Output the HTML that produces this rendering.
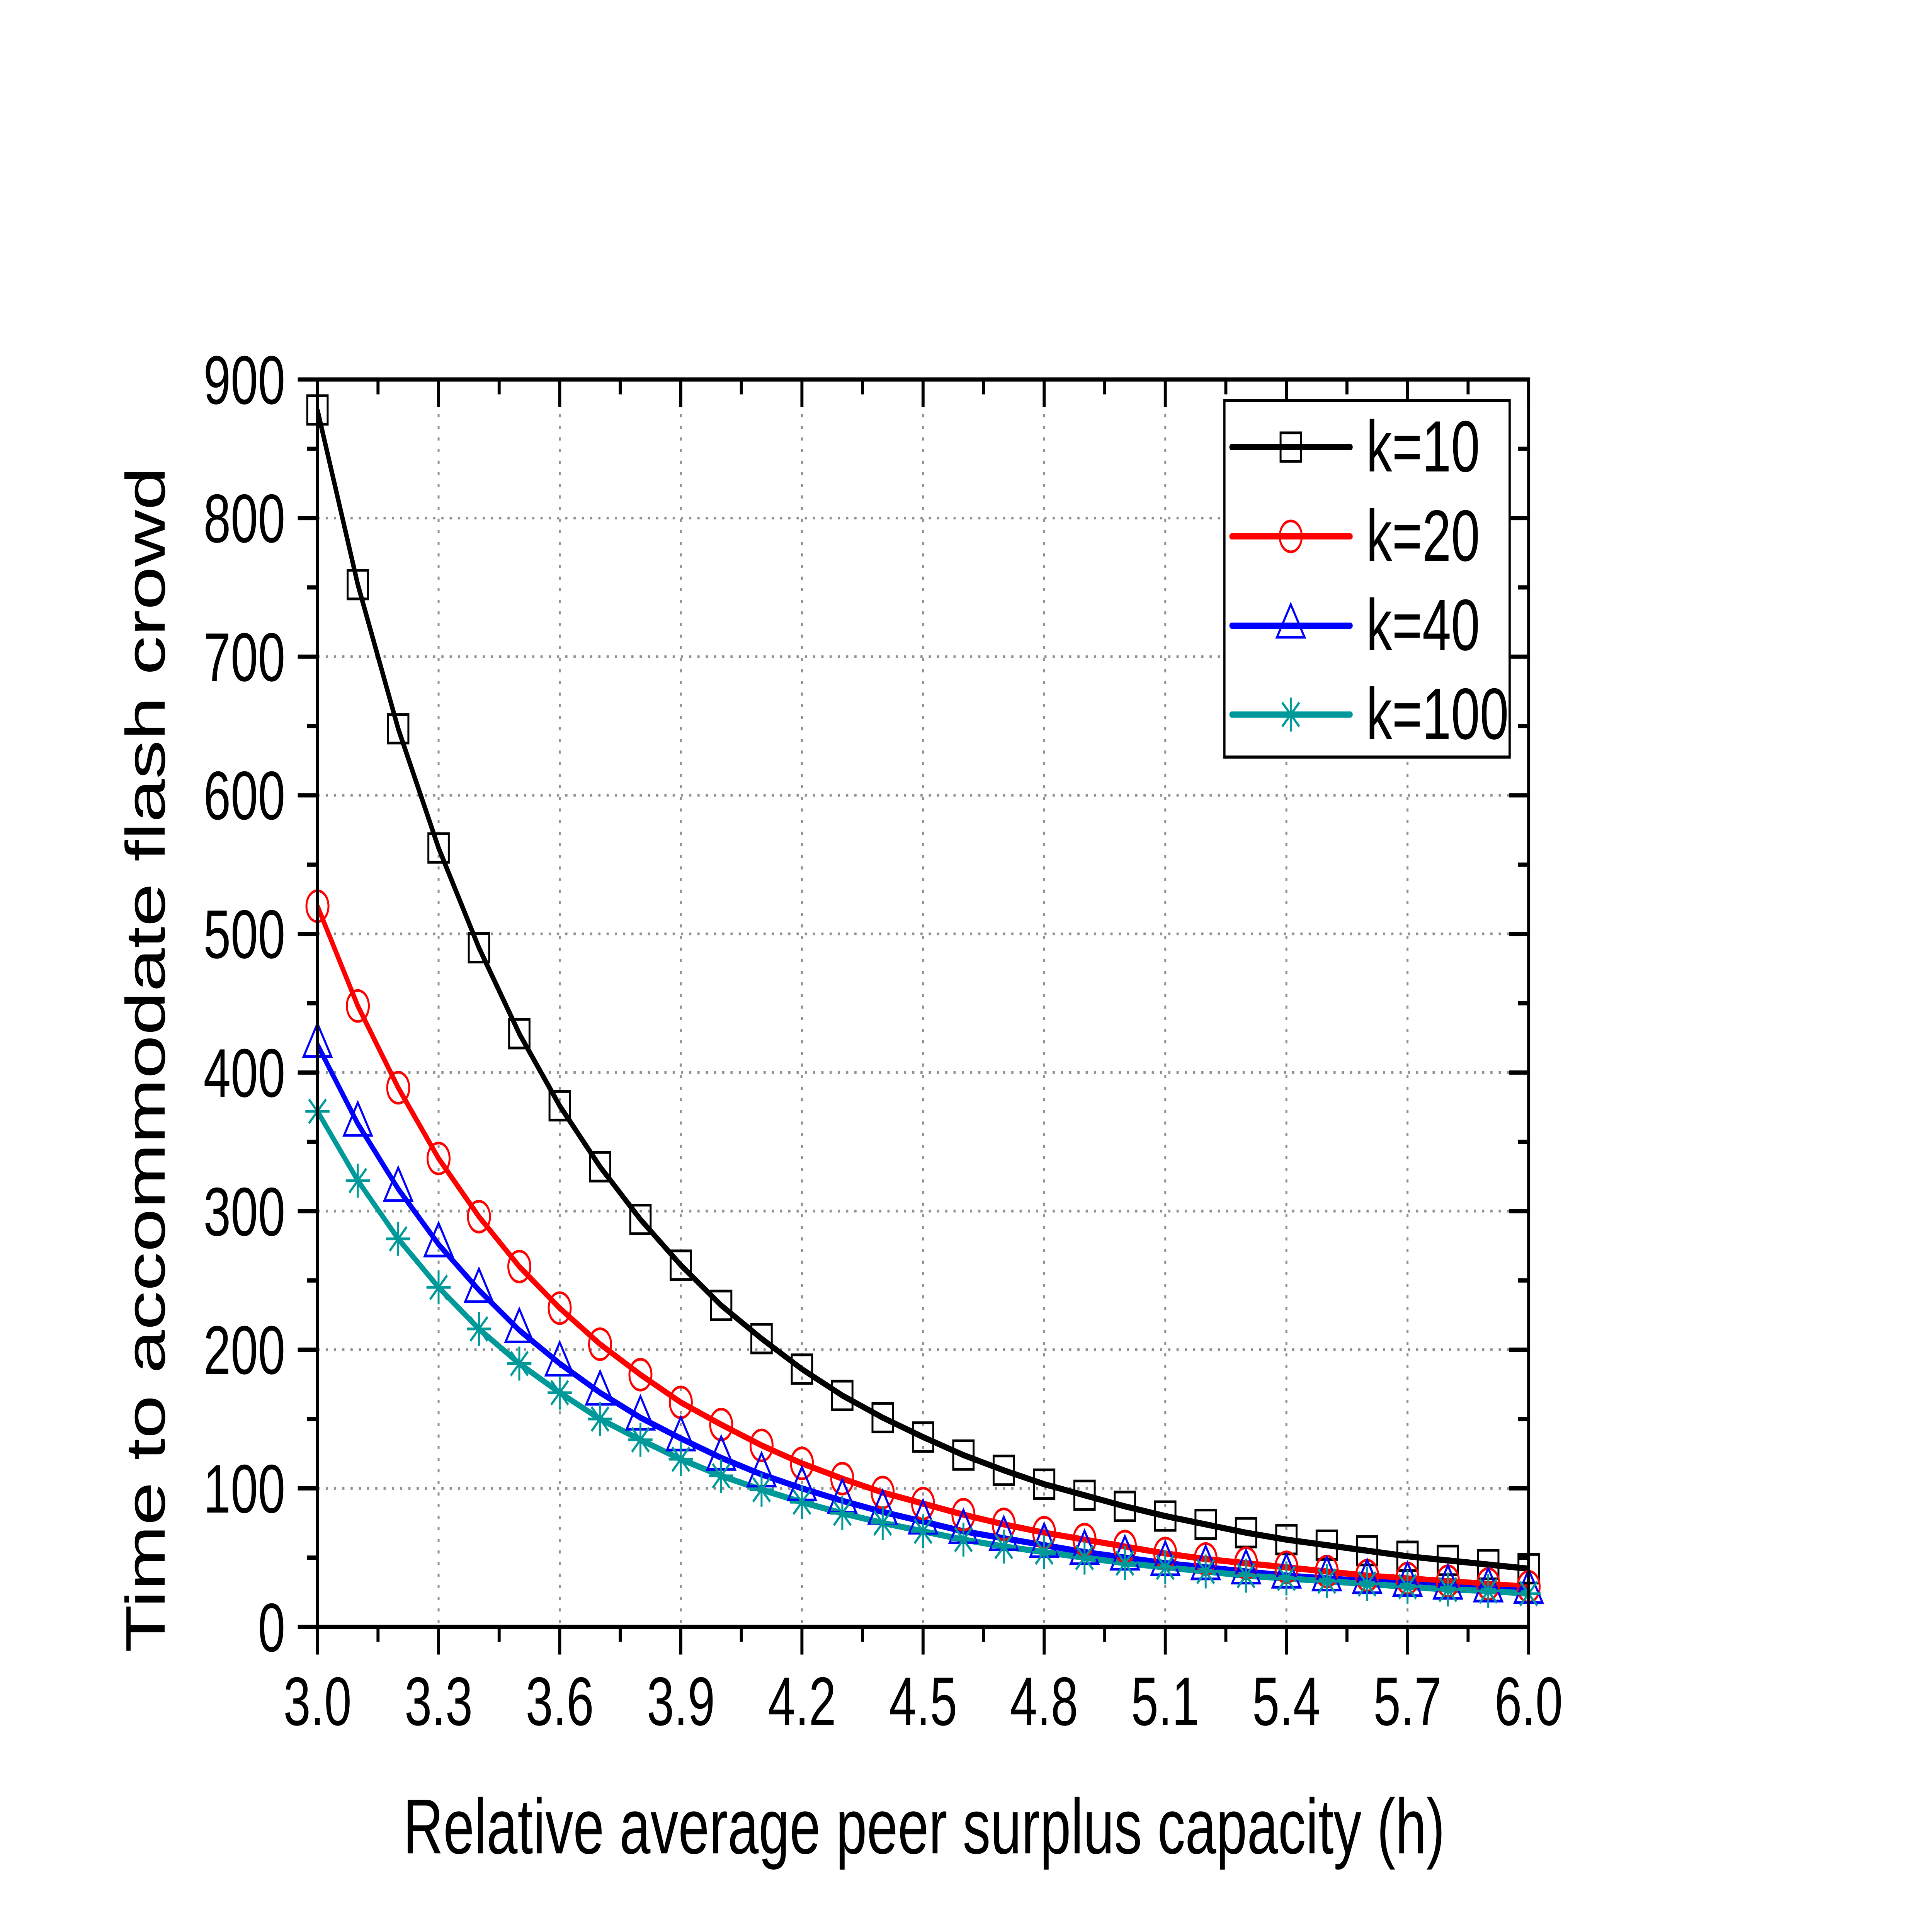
<!DOCTYPE html>
<html><head><meta charset="utf-8"><style>
html,body{margin:0;padding:0;background:#fff;overflow:hidden;width:100%;height:100%;}
svg{display:block;width:100vw;height:100vh;}
text{font-family:"Liberation Sans",Arial,sans-serif;fill:#000;}
</style></head><body>
<svg id="s" viewBox="0 0 7017 4958" preserveAspectRatio="none" xmlns="http://www.w3.org/2000/svg">
<rect width="7017" height="4958" fill="#fff"/>
<g id="grid" stroke="#909090" stroke-width="7" stroke-dasharray="8 22" fill="none"></g>
<g id="ticks" stroke="#000" stroke-width="11" fill="none" stroke-linecap="square"></g>
<defs><clipPath id="cp"><rect x="1153" y="982" width="4399" height="3228"/></clipPath></defs>
<g id="series" clip-path="url(#cp)"></g>
<g id="mk"></g>
<rect x="1153" y="982" width="4399" height="3228" fill="none" stroke="#000" stroke-width="11"/>
<g font-size="178" text-anchor="end">
<text x="1036" y="4273">0</text>
<text x="1036" y="3914">100</text>
<text x="1036" y="3555">200</text>
<text x="1036" y="3197">300</text>
<text x="1036" y="2838">400</text>
<text x="1036" y="2479">500</text>
<text x="1036" y="2120">600</text>
<text x="1036" y="1762">700</text>
<text x="1036" y="1403">800</text>
<text x="1036" y="1045">900</text>
</g>
<g font-size="178" text-anchor="middle">
<text x="1153" y="4464">3.0</text>
<text x="1593" y="4464">3.3</text>
<text x="2033" y="4464">3.6</text>
<text x="2473" y="4464">3.9</text>
<text x="2913" y="4464">4.2</text>
<text x="3353" y="4464">4.5</text>
<text x="3792" y="4464">4.8</text>
<text x="4232" y="4464">5.1</text>
<text x="4672" y="4464">5.4</text>
<text x="5112" y="4464">5.7</text>
<text x="5552" y="4464">6.0</text>
</g>
<text x="3356" y="4796" font-size="202" text-anchor="middle">Relative average peer surplus capacity (h)</text>
<text transform="translate(598,2742) rotate(-90)" font-size="202" text-anchor="middle">Time to accommodate flash crowd</text>
<rect x="4447" y="1036" width="1036" height="923" fill="#fff" stroke="#000" stroke-width="8"/>
<g id="leg"></g>
<g font-size="188">
<text x="4962" y="1220">k=10</text>
<text x="4962" y="1451">k=20</text>
<text x="4962" y="1682">k=40</text>
<text x="4962" y="1912">k=100</text>
</g>
</svg>
<script>
var NS="http://www.w3.org/2000/svg";
function X(h){return 1153+(h-3)*1466.33;}
function Y(v){return 4210-v*3.5867;}
function el(p,t,a){var e=document.createElementNS(NS,t);for(var k in a)e.setAttribute(k,a[k]);p.appendChild(e);return e;}
var grid=document.getElementById('grid'),ticks=document.getElementById('ticks');
for(var i=1;i<10;i++){var x=X(3+i*0.3);el(grid,'line',{x1:x,y1:982,x2:x,y2:4210});}
for(var i=1;i<9;i++){var y=Y(i*100);el(grid,'line',{x1:1153,y1:y,x2:5552,y2:y});}
for(var i=0;i<=20;i++){var x=X(3+i*0.15),L=(i%2==0)?66:33;
 el(ticks,'line',{x1:x,y1:4210,x2:x,y2:4210+L});el(ticks,'line',{x1:x,y1:982,x2:x,y2:982+L});}
for(var i=0;i<=18;i++){var y=Y(i*50),L=(i%2==0)?66:33;
 el(ticks,'line',{x1:1153,y1:y,x2:1153-L,y2:y});el(ticks,'line',{x1:5552,y1:y,x2:5552-L,y2:y});}
var D={
'#000000':[878,752,648,562,490,428,376,332,294,261,232,208,186,167,151,137,124,113,103,95,87,80,74,68,63,59,55,51,48,45,42],
'#ff0000':[520,448,389,338,296,260,230,204,182,162,146,131,118,107,97,89,81,74,68,63,58,53,49,46,43,40,37,35,33,31,29],
'#0000ff':[420,363,316,276,243,214,190,169,151,136,122,110,100,91,83,76,69,64,59,54,50,46,43,40,37,35,33,31,29,27,26],
'#009999':[372,322,280,245,215,190,169,150,135,121,109,99,90,82,75,69,63,58,54,50,46,43,40,37,35,33,31,29,27,26,24]};
var kinds=['sq','ci','tr','as'],cols=Object.keys(D);
var ser=document.getElementById('series'),mk=document.getElementById('mk'),leg=document.getElementById('leg');
function marker(g,k,c,x,y){
 var a={fill:'none',stroke:c,'stroke-width':7};
 if(k=='sq'){a.x=x-37;a.y=y-37;a.width=74;a.height=74;el(g,'rect',a);}
 else if(k=='ci'){a.cx=x;a.cy=y;a.r=40;el(g,'circle',a);}
 else if(k=='tr'){a.points=(x-50)+','+(y+30)+' '+(x+50)+','+(y+30)+' '+x+','+(y-55);el(g,'polygon',a);}
 else{for(var j=0;j<4;j++){var an=j*Math.PI/4,dx=44*Math.sin(an),dy=44*Math.cos(an);
   el(g,'line',{x1:x-dx,y1:y-dy,x2:x+dx,y2:y+dy,stroke:c,'stroke-width':7});}}
}
var ly=[1157,1388,1619,1849];
cols.forEach(function(c,si){
 var p=D[c].map(function(v,i){return X(3+i*0.1)+','+Y(v);}).join(' ');
 el(ser,'polyline',{points:p,fill:'none',stroke:c,'stroke-width':16,'stroke-linejoin':'round'});
 el(leg,'line',{x1:4473,y1:ly[si],x2:4905,y2:ly[si],stroke:c,'stroke-width':16,'stroke-linecap':'round'});
 marker(leg,kinds[si],c,4688,ly[si]);
});
cols.forEach(function(c,si){D[c].forEach(function(v,i){marker(mk,kinds[si],c,X(3+i*0.1),Y(v));});});
</script>
</body></html>
